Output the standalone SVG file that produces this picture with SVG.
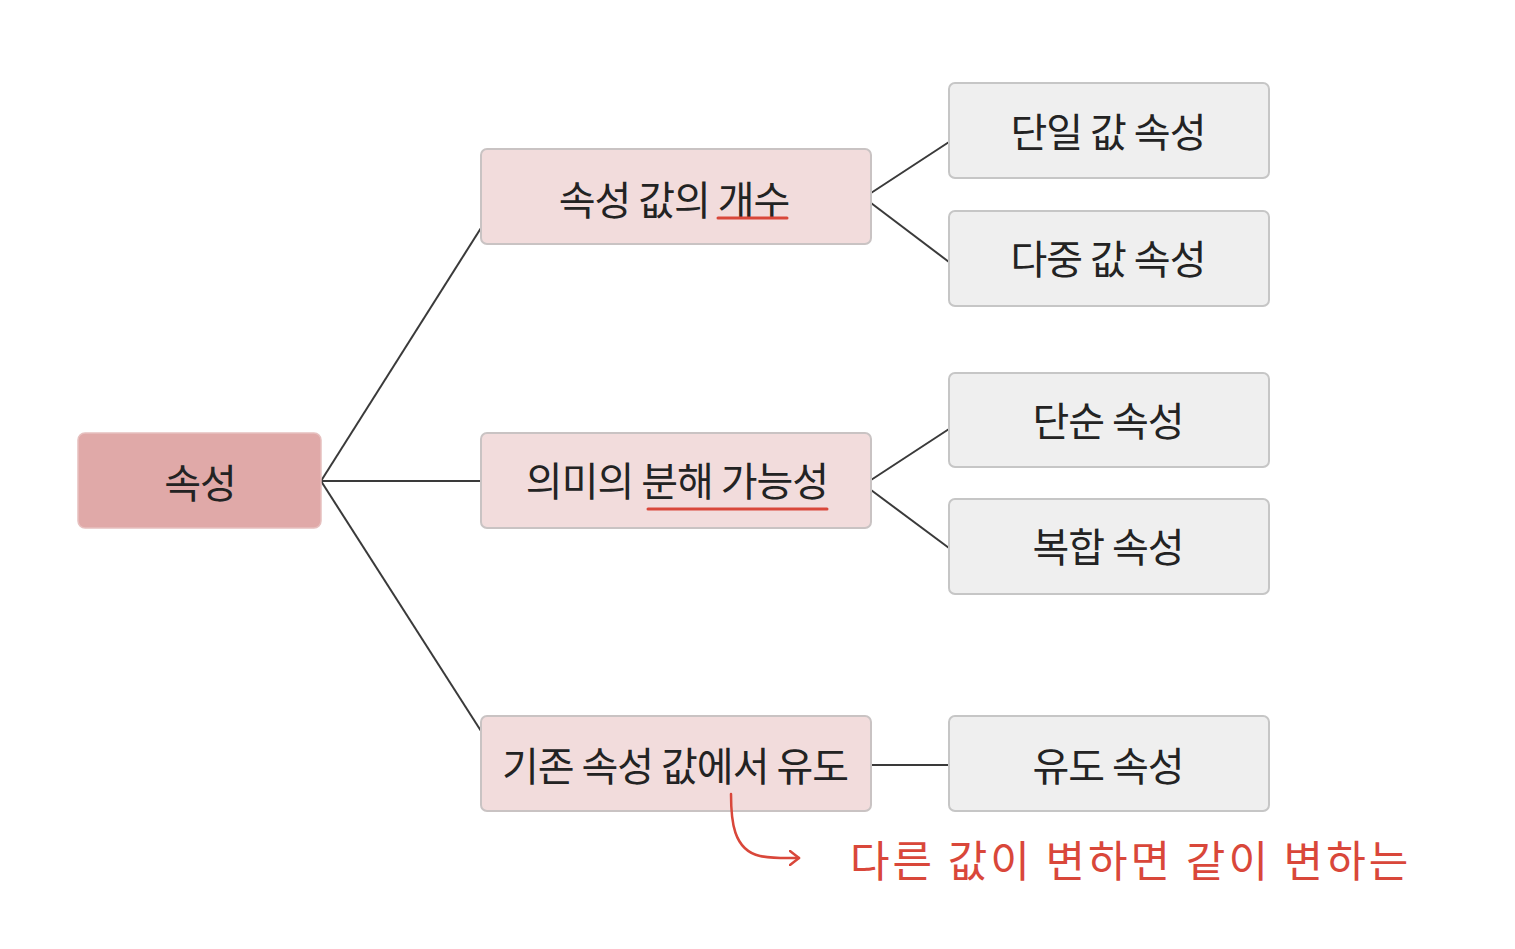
<svg xmlns="http://www.w3.org/2000/svg" width="1515" height="949" viewBox="0 0 1515 949">
<defs>
<style>
.t{font-family:"Noto Sans CJK KR","Noto Sans",sans-serif;font-size:40px;fill:#232323;text-anchor:middle;letter-spacing:-1px}
.root rect{fill:#e0a9a8;stroke:#e6c0bf;stroke-width:1.5}
.mid rect{fill:#f2dcdc;stroke:#c9c3c3;stroke-width:2}
.leaf rect{fill:#efefef;stroke:#c6c6c6;stroke-width:2}
.conn line{stroke:#3a3a3a;stroke-width:2}
.ul{stroke:#d9473a;stroke-width:3;stroke-linecap:round}
.note{font-family:"Noto Sans CJK KR","Noto Sans",sans-serif;font-size:43px;fill:#d9473a;letter-spacing:3px}
</style>
<marker id="ah" viewBox="0 0 12 16" refX="10" refY="8" markerWidth="12" markerHeight="16" markerUnits="userSpaceOnUse" orient="auto">
<path d="M1 1 L10 8 L1 15" fill="none" stroke="#d9473a" stroke-width="2.5" stroke-linecap="round" stroke-linejoin="round"/>
</marker>
</defs>
<rect width="1515" height="949" fill="#ffffff"/>
<g id="connectors" class="conn">
<line x1="321" y1="481" x2="481" y2="228"/>
<line x1="321" y1="481" x2="481" y2="481"/>
<line x1="321" y1="481" x2="481" y2="731"/>
<line x1="871" y1="193" x2="949" y2="142"/>
<line x1="871" y1="203" x2="949" y2="262"/>
<line x1="871" y1="480" x2="949" y2="429"/>
<line x1="871" y1="490" x2="949" y2="548"/>
<line x1="871" y1="765" x2="949" y2="765"/>
</g>
<g id="root" class="root"><rect x="78" y="433" width="243" height="95" rx="7"/><text class="t" x="200" y="498">속성</text></g>
<g id="mid1" class="mid"><rect x="481" y="149" width="390" height="95" rx="6"/><text class="t" x="674" y="215">속성 값의 개수</text><line class="ul" x1="718" y1="218" x2="787" y2="218"/></g>
<g id="mid2" class="mid"><rect x="481" y="433" width="390" height="95" rx="6"/><text class="t" x="677" y="496">의미의 분해 가능성</text><line class="ul" x1="648" y1="509" x2="827" y2="509"/></g>
<g id="mid3" class="mid"><rect x="481" y="716" width="390" height="95" rx="6"/><text class="t" x="675" y="781">기존 속성 값에서 유도</text></g>
<g id="leaf1" class="leaf"><rect x="949" y="83" width="320" height="95" rx="6"/><text class="t" x="1108" y="147">단일 값 속성</text></g>
<g id="leaf2" class="leaf"><rect x="949" y="211" width="320" height="95" rx="6"/><text class="t" x="1108" y="274">다중 값 속성</text></g>
<g id="leaf3" class="leaf"><rect x="949" y="373" width="320" height="94" rx="6"/><text class="t" x="1108" y="436">단순 속성</text></g>
<g id="leaf4" class="leaf"><rect x="949" y="499" width="320" height="95" rx="6"/><text class="t" x="1108" y="562">복합 속성</text></g>
<g id="leaf5" class="leaf"><rect x="949" y="716" width="320" height="95" rx="6"/><text class="t" x="1108" y="781">유도 속성</text></g>
<g id="annotation">
<path d="M731 794 C731 820 733 850 760 856 C775 859 790 858 799 858" fill="none" stroke="#d9473a" stroke-width="2.5" stroke-linecap="round" marker-end="url(#ah)"/>
<text class="note" x="850" y="877">다른 값이 변하면 같이 변하는</text>
</g>
</svg>
